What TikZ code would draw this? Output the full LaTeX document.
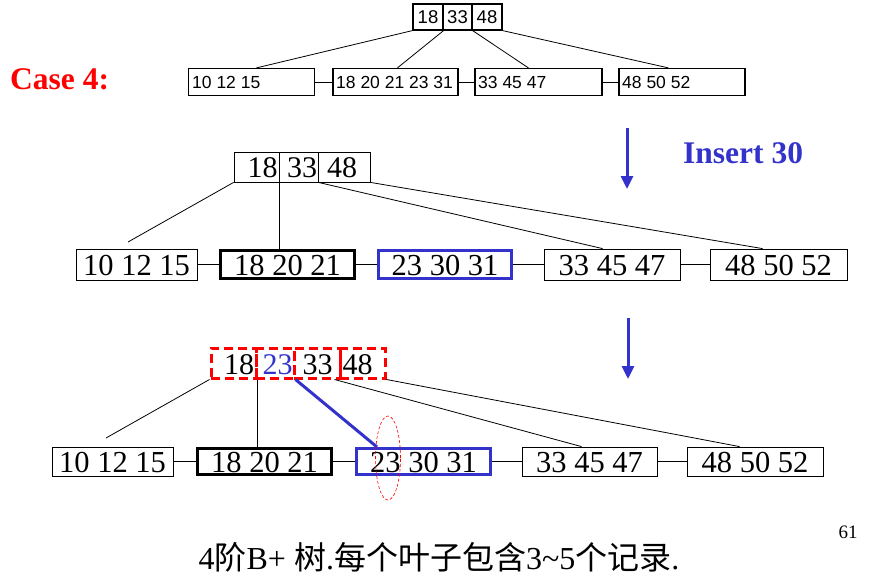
\documentclass[tikz,border=0pt]{standalone}
\usepackage{fontspec}
\setmainfont{Liberation Serif}
\newfontfamily\tms{Liberation Serif}
\newfontfamily\ars{Liberation Sans}
\newfontfamily\cjk{Noto Sans CJK SC}
\usetikzlibrary{arrows.meta,shapes.geometric,calc}
\definecolor{myblue}{RGB}{51,51,204}
\tikzset{
  cell/.style={draw, line width=1.2pt, inner sep=0pt, minimum height=26pt, font=\ars\fontsize{18.5}{18.5}\selectfont},
  tleaf/.style={draw, line width=1.2pt, inner sep=0pt, minimum height=27pt},
  ttxt/.style={anchor=west, inner sep=0pt, font=\ars\fontsize{17.5}{17.5}\selectfont},
  rcell/.style={draw, line width=0.8pt, inner sep=0pt, minimum height=30pt},
  dcell/.style={draw=red, line width=3pt, dash pattern=on 9pt off 5pt, inner sep=0pt, minimum height=30pt},
  leaf/.style={draw, line width=0.8pt, inner sep=0pt, text height=22.5pt, text depth=0pt, font=\tms\fontsize{30.5}{30.5}\selectfont},
  thleaf/.style={leaf, line width=3pt},
  blleaf/.style={leaf, draw=myblue, line width=3pt},
  txt/.style={inner sep=0pt, text height=21pt, text depth=0pt, font=\tms\fontsize{30}{30}\selectfont},
  conn/.style={line width=0.8pt},
  barrow/.style={draw=myblue, line width=3pt, -{Triangle[width=12pt,length=13pt]}},
  bigbold/.style={anchor=west, inner sep=0pt, font=\tms\bfseries\fontsize{31.5}{31.5}\selectfont},
}
\begin{document}
\begin{tikzpicture}[x=1pt,y=-1pt]
\useasboundingbox (0,0) rectangle (870,583);
% ---------- top tree ----------
\node[bigbold, text=red] (case) at (10,79) {Case 4:};
\node[cell, minimum width=30pt] (t1) at (428,17) {18};
\node[cell, minimum width=29pt] (t2) at (457.5,17) {33};
\node[cell, minimum width=30pt] (t3) at (487,17) {48};
\node[tleaf, minimum width=126pt] (tl1) at (251.5,82) {};
\node[tleaf, minimum width=125pt] (tl2) at (395.5,82) {};
\node[tleaf, minimum width=127pt] (tl3) at (538.5,82) {};
\node[tleaf, minimum width=126pt] (tl4) at (682,82) {};
\node[ttxt] (tl1t) at (192,82.5) {10 12 15};
\node[ttxt] (tl2t) at (336,82.5) {18 20 21 23 31};
\node[ttxt] (tl3t) at (478,82.5) {33 45 47};
\node[ttxt] (tl4t) at (622,82.5) {48 50 52};
\draw[conn] (tl1.east) -- (tl2.west);
\draw[conn] (tl2.east) -- (tl3.west);
\draw[conn] (tl3.east) -- (tl4.west);
\draw[conn] (t1.south west) -- ([xshift=68.5pt]tl1.north west);
\draw[conn] (t1.south east) -- ([xshift=65pt]tl2.north west);
\draw[conn] (t2.south east) -- ([xshift=54pt]tl3.north west);
\draw[conn] (t3.south east) -- ([xshift=50pt]tl4.north west);
% arrow 1
\coordinate (a1s) at (627,128);
\coordinate (a1e) at (627,189);
\draw[barrow] (a1s) -- (a1e);
\node[bigbold, text=myblue] (ins) at (683,153) {Insert 30};
% ---------- middle tree ----------
\node[rcell, minimum width=45pt] (m1) at (256.5,167) {};
\node[rcell, minimum width=39pt] (m2) at (298.5,167) {};
\node[rcell, minimum width=52pt] (m3) at (344,167) {};
\node[txt] (m1t) at (262.5,167) {18};
\node[txt] (m2t) at (302,167) {33};
\node[txt] (m3t) at (342,167) {48};
\node[leaf, minimum width=121pt, minimum height=31pt] (ml1) at (136.5,264.5) {10 12 15};
\node[thleaf, minimum width=134pt, minimum height=28pt] (ml2) at (287.5,264.5) {18 20 21};
\node[blleaf, minimum width=133pt, minimum height=28pt] (ml3) at (445,264.5) {23 30 31};
\node[leaf, minimum width=136pt, minimum height=31pt] (ml4) at (612,264.5) {33 45 47};
\node[leaf, minimum width=137pt, minimum height=31pt] (ml5) at (778.5,264.5) {48 50 52};
\draw[conn] (ml1.east) -- (ml2.west);
\draw[conn] (ml2.east) -- (ml3.west);
\draw[conn] (ml3.east) -- (ml4.west);
\draw[conn] (ml4.east) -- (ml5.west);
\coordinate (mfree) at (128,242);
\draw[conn] (m1.south west) -- (mfree);
\draw[conn] (m1.south east) -- (m1.south east |- ml2.north);
\draw[conn] (m2.south east) -- ([xshift=59pt]ml4.north west);
\draw[conn] (m3.south east) -- ([xshift=53pt]ml5.north west);
% arrow 2
\coordinate (a2s) at (628,318);
\coordinate (a2e) at (628,379);
\draw[barrow] (a2s) -- (a2e);
% ---------- bottom tree ----------
\coordinate (bfree) at (106,438);
\node[leaf, minimum width=121pt, minimum height=29pt] (bl1) at (112.5,461.5) {10 12 15};
\node[thleaf, minimum width=134pt, minimum height=26pt] (bl2) at (264.5,461.5) {18 20 21};
\node[blleaf, minimum width=134pt, minimum height=26pt] (bl3) at (423.5,461.5) {23 30 31};
\node[leaf, minimum width=135pt, minimum height=29pt] (bl4) at (589.5,461.5) {33 45 47};
\node[leaf, minimum width=136pt, minimum height=29pt] (bl5) at (755,461.5) {48 50 52};
\draw[conn] (bl1.east) -- (bl2.west);
\draw[conn] (bl2.east) -- (bl3.west);
\draw[conn] (bl3.east) -- (bl4.west);
\draw[conn] (bl4.east) -- (bl5.west);
\node[dcell, minimum width=45pt] (b1) at (233.5,363) {};
\node[dcell, minimum width=38pt] (b2) at (275,363) {};
\node[dcell, minimum width=46pt] (b3) at (317,363) {};
\node[dcell, minimum width=45pt] (b4) at (362.5,363) {};
\node[txt] (b1t) at (239,363.5) {18};
\node[txt, text=myblue] (b2t) at (277.5,363.5) {23};
\node[txt] (b3t) at (317.5,363.5) {33};
\node[txt] (b4t) at (357.5,363.5) {48};
\draw[conn] (b1.south west) -- (bfree);
\draw[conn] (b1.south east) -- (b1.south east |- bl2.north);
\draw[draw=myblue, line width=3pt] (b2.south east) -- ([xshift=22pt]bl3.north west);
\draw[conn] ([xshift=-7pt]b3.south east) -- ([xshift=60pt]bl4.north west);
\draw[conn] (b4.south east) -- ([xshift=53pt]bl5.north west);
\node[draw=red, line width=0.6pt, dash pattern=on 3pt off 2pt, ellipse, inner sep=0pt, minimum width=25pt, minimum height=84pt] (ell) at (388,458) {};
% ---------- captions ----------
\node[inner sep=0pt, font=\tms\fontsize{19}{19}\selectfont] (pg) at (848,532) {61};
\node[inner sep=0pt, font=\fontsize{32}{32}\selectfont] (cap) at (439,557) {{\tms 4}{\cjk 阶}{\tms B+ }{\cjk 树}{\tms .}{\cjk 每个叶子包含}{\tms 3\textasciitilde 5}{\cjk 个记录}{\tms .}};
\end{tikzpicture}
\end{document}
